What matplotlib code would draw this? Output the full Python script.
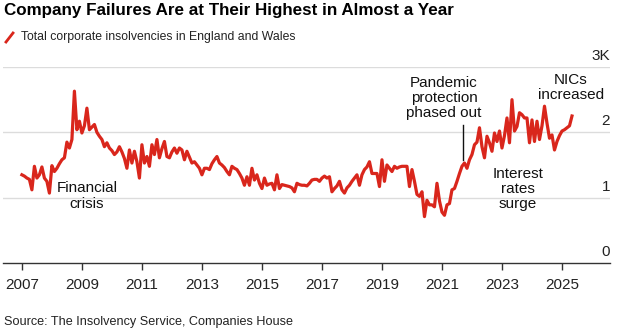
import numpy as np
import matplotlib.pyplot as plt
from matplotlib import font_manager
from matplotlib.lines import Line2D

plt.rcParams['font.family'] = ['Liberation Sans', 'DejaVu Sans']

# monthly corporate insolvencies, England and Wales (Jan 2007 - May 2025)
y2007 = [1350, 1330, 1300, 1280, 1120, 1480, 1300, 1350, 1470, 1300, 1250, 1070]
y2008 = [1490, 1400, 1450, 1520, 1580, 1610, 1850, 1760, 1890, 2630, 2040, 2170]
y2009 = [1990, 2100, 2370, 2040, 2080, 2120, 2000, 1940, 1890, 1780, 1840, 1760]
y2010 = [1720, 1660, 1700, 1780, 1700, 1600, 1450, 1730, 1530, 1710, 1550, 1300]
y2011 = [1810, 1530, 1630, 1480, 1810, 1660, 1890, 1610, 1750, 1860, 1630, 1610]
y2012 = [1700, 1760, 1680, 1760, 1730, 1580, 1710, 1620, 1530, 1550, 1500, 1450]
y2013 = [1350, 1450, 1450, 1430, 1520, 1580, 1630, 1530, 1500, 1460, 1400, 1350]
y2014 = [1480, 1450, 1430, 1370, 1300, 1190, 1320, 1190, 1450, 1270, 1350, 1220]
y2015 = [1140, 1300, 1190, 1210, 1220, 1120, 1350, 1140, 1200, 1190, 1180, 1170]
y2016 = [1150, 1090, 1220, 1200, 1190, 1190, 1180, 1220, 1270, 1280, 1280, 1250]
y2017 = [1300, 1330, 1300, 1320, 1090, 1140, 1180, 1250, 1120, 1070, 1150, 1190]
y2018 = [1250, 1300, 1350, 1190, 1350, 1430, 1470, 1550, 1370, 1370, 1370, 1170]
y2019 = [1580, 1250, 1500, 1450, 1400, 1480, 1450, 1470, 1480, 1480, 1480, 1170]
y2020 = [1430, 1250, 1050, 1020, 1090, 710, 960, 890, 890, 860, 1220, 950]
y2021 = [780, 730, 890, 910, 1120, 1140, 1250, 1370, 1480, 1530, 1450, 1580]
y2022 = [1660, 1810, 1850, 2070, 1780, 1610, 1940, 1840, 1710, 1990, 1860, 2020]
y2023 = [1760, 1950, 2220, 1840, 2500, 2020, 2090, 2300, 2270, 2220, 2220, 1840]
y2024 = [2190, 1860, 2170, 1890, 2100, 2400, 2140, 1910, 1960, 1730, 1860, 1950]
y2025 = [2020, 2040, 2070, 2100, 2250]

values = (y2007 + y2008 + y2009 + y2010 + y2011 + y2012 + y2013 + y2014 + y2015
          + y2016 + y2017 + y2018 + y2019 + y2020 + y2021 + y2022 + y2023 + y2024 + y2025)
dates = 2007 + np.arange(len(values)) / 12

year_ticks = list(range(2007, 2026, 2))
y_ticks = [0, 1000, 2000, 3000]
y_labels = ['0', '1', '2', '3K']

red = '#d9261c'
W, H = 625, 336

# narrow face for header/footer text if it is installed
names = {f.name for f in font_manager.fontManager.ttflist}
if 'Liberation Sans Narrow' in names:
    narrow, shrink = ['Liberation Sans Narrow', 'DejaVu Sans'], 1.0
else:
    narrow, shrink = ['Liberation Sans', 'DejaVu Sans'], 0.8

fig = plt.figure(figsize=(W / 100, H / 100), dpi=100)
ax = fig.add_axes([3 / W, 1 - 263 / H, 607 / W, 196 / H])

for v in y_ticks[1:]:
    ax.axhline(v, color='#dcdcdc', lw=1, zorder=0)
ax.plot(dates, values, color=red, lw=2.3, solid_joinstyle='round', zorder=3)

ax.set_xlim(2006.37, 2026.6)
ax.set_ylim(0, 3000)
for s in ['top', 'right', 'left']:
    ax.spines[s].set_visible(False)
ax.spines['bottom'].set_color('#333333')
ax.spines['bottom'].set_linewidth(1)
ax.set_yticks([])
ax.set_xticks(year_ticks)
ax.set_xticklabels([str(y) for y in year_ticks])
ax.tick_params(axis='x', length=5, width=1, color='#333333', labelsize=11,
               labelcolor='#222222', pad=6)

for v, lab in zip(y_ticks, y_labels):
    ax.annotate(lab, (1.0, v), xycoords=ax.get_yaxis_transform(),
                xytext=(0, 5), textcoords='offset points',
                ha='right', va='baseline', fontsize=11, color='#222222')

note = dict(ha='center', va='center', fontsize=11, color='#111111', linespacing=1.1)
ax.text(2009.17, 1026, 'Financial\ncrisis', **note)
ax.text(2021.07, 2527, 'Pandemic\nprotection\nphased out', **note)
ax.text(2025.3, 2688, 'NICs\nincreased', **note)
ax.text(2023.53, 1133, 'Interest\nrates\nsurge', **note)
ax.plot([2021.7, 2021.7], [1577, 2113], color='#111111', lw=1, zorder=4)

fig.text(4 / W, 1 - 11 / H, 'Company Failures Are at Their Highest in Almost a Year',
         ha='left', va='center', fontsize=15.3 * shrink, fontweight='bold',
         color='#000000', family=narrow)
fig.add_artist(Line2D([6 / W, 13 / W], [1 - 42 / H, 1 - 33 / H], color=red, lw=2))
fig.text(21 / W, 1 - 37 / H, 'Total corporate insolvencies in England and Wales',
         ha='left', va='center', fontsize=11 * shrink, color='#222222', family=narrow)
fig.text(4 / W, 1 - 322 / H, 'Source: The Insolvency Service, Companies House',
         ha='left', va='center', fontsize=11.4 * shrink, color='#222222', family=narrow)

fig.savefig('out.png', dpi=100)
